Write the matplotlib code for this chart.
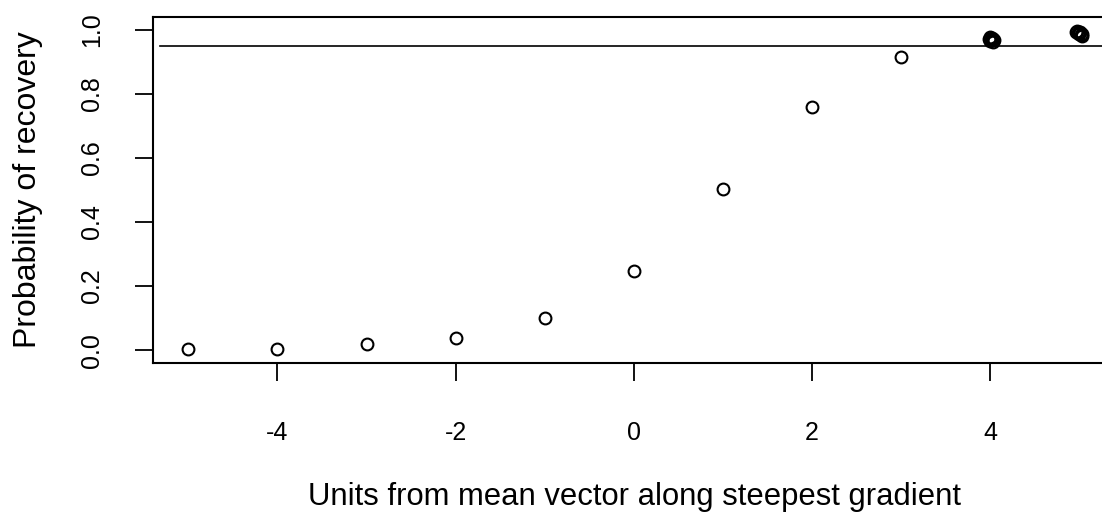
import matplotlib
matplotlib.use("Agg")
import matplotlib.pyplot as plt
import numpy as np

plt.rcParams['font.family'] = ['Liberation Sans', 'DejaVu Sans']
plt.rcParams['axes.unicode_minus'] = False

# units from mean vector and estimated recovery probability
# (the points near 4 and 5 overlap into dark blobs)
units = [-5, -4, -3, -2, -1, 0, 1, 2, 3,
         3.99, 4.00, 4.01, 4.02, 4.03, 4.04, 4.00, 4.03, 4.015,
         4.97, 4.98, 5.00, 5.01, 5.02, 5.03, 4.99, 5.03, 5.00]
prob = [0.005, 0.005, 0.019, 0.037, 0.100, 0.246, 0.504, 0.758, 0.914,
        0.972, 0.977, 0.968, 0.974, 0.963, 0.967, 0.966, 0.971, 0.970,
        0.992, 0.997, 0.986, 0.993, 0.983, 0.988, 0.989, 0.982, 0.994]
threshold = 0.95

x_ticks = [-4, -2, 0, 2, 4]
y_ticks = [0.0, 0.2, 0.4, 0.6, 0.8, 1.0]

fig = plt.figure(figsize=(11.02, 5.21), dpi=100)
ax = fig.add_axes([152.8 / 1102, 158 / 521, (1114.7 - 152.8) / 1102, 346 / 521])

ax.plot(units, prob, linestyle='none', marker='o', markersize=8.5,
        markerfacecolor='none', markeredgecolor='black', markeredgewidth=1.5)
ax.axhline(threshold, xmin=0.008, color='black', linewidth=1.2)

ax.set_xlim(-5.4, 5.4)
ax.set_ylim(-0.04, 1.04)
ax.set_xticks(x_ticks)
ax.set_xticklabels([str(t) for t in x_ticks])
ax.set_yticks(y_ticks)
ax.set_yticklabels(['%.1f' % t for t in y_ticks], rotation=90, va='center')

for s in ax.spines.values():
    s.set_linewidth(1.5)
ax.tick_params(axis='both', direction='out', length=13, width=1.3)
ax.tick_params(axis='x', pad=29, labelsize=18)
ax.tick_params(axis='y', pad=22, labelsize=18)

fig.text(634 / 1102, 1 - 497 / 521, 'Units from mean vector along steepest gradient',
         ha='center', va='center', fontsize=22.3)
fig.text(28 / 1102, 1 - 190 / 521, 'Probability of recovery',
         ha='center', va='center', rotation=90, fontsize=23)

fig.savefig('out.png', dpi=100)
